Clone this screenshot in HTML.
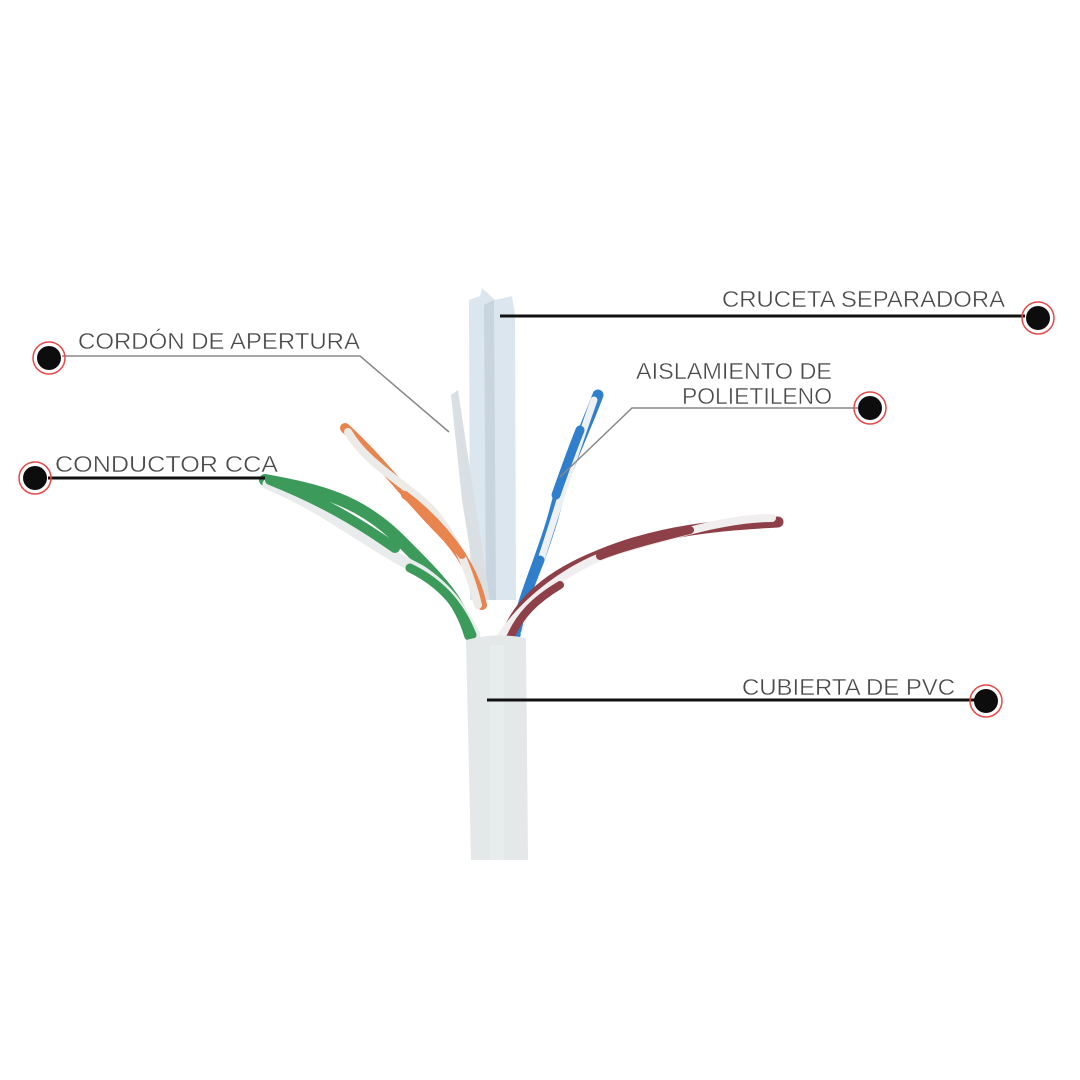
<!DOCTYPE html>
<html><head><meta charset="utf-8"><style>
html,body{margin:0;padding:0;background:#fff;}
svg{display:block}
text{font-family:"Liberation Sans",sans-serif;font-size:23px;fill:#4a4a4a;stroke:#fff;stroke-width:0.4px;}
path{stroke-linecap:round}
</style></head><body>
<svg width="1080" height="1080" viewBox="0 0 1080 1080" xmlns="http://www.w3.org/2000/svg">
<rect width="1080" height="1080" fill="#fff"/>
<!-- separator -->
<polygon points="469,300 480,296 482,288 495,300 512,296 515,315 516,600 470,600" fill="#dce6ee"/>
<polygon points="484,305 494,300 496,600 486,600" fill="#c8d4de"/>
<!-- ripcord -->
<path d="M451,395 L458,390 L470,470 L490,600 L478,600 L462,500 Z" fill="#d9dfe3"/>
<!-- green pair -->
<path d="M265,480 C320,490 360,500 400,540 C440,580 460,600 470,635" stroke="#3c9a5a" stroke-width="12" fill="none"/>
<path d="M268,484 C330,510 360,540 420,570 C450,590 462,610 475,635" stroke="#e8ecec" stroke-width="11" fill="none"/>
<path d="M270,480 C320,500 355,520 395,548" stroke="#3c9a5a" stroke-width="10" fill="none"/>
<path d="M410,568 C445,585 462,610 472,635" stroke="#3c9a5a" stroke-width="9" fill="none"/>
<!-- orange pair -->
<path d="M345,428 C380,460 410,500 440,530 C460,550 475,575 482,605" stroke="#e8844e" stroke-width="10" fill="none"/>
<path d="M348,432 C370,470 420,490 440,520 C460,545 472,580 478,605" stroke="#ecebe8" stroke-width="8" fill="none"/>
<path d="M405,495 C425,510 445,530 462,555" stroke="#e8844e" stroke-width="8" fill="none"/>
<!-- blue pair -->
<path d="M598,395 C585,430 565,470 555,510 C545,550 525,590 515,635" stroke="#2f7fcc" stroke-width="11" fill="none"/>
<path d="M594,400 C580,440 570,470 560,500 C548,540 530,590 520,630" stroke="#eef0f2" stroke-width="7" fill="none"/>
<path d="M580,430 C570,455 563,475 556,495" stroke="#2f7fcc" stroke-width="9" fill="none"/>
<path d="M540,560 C530,585 522,605 517,630" stroke="#2f7fcc" stroke-width="9" fill="none"/>
<!-- red pair -->
<path d="M778,522 C720,525 660,530 600,555 C550,575 520,600 505,638" stroke="#8e4048" stroke-width="11" fill="none"/>
<path d="M772,518 C720,518 660,540 620,550 C570,565 525,600 500,638" stroke="#f0eeee" stroke-width="8" fill="none"/>
<path d="M690,530 C650,540 620,548 600,556" stroke="#8e4048" stroke-width="8" fill="none"/>
<path d="M560,585 C535,600 520,615 510,638" stroke="#8e4048" stroke-width="8" fill="none"/>
<!-- jacket -->
<path d="M466,640 Q497,632 526,638 L528,860 L471,860 Z" fill="#e4e8e8" style="stroke-linecap:butt"/>
<rect x="490" y="645" width="14" height="215" fill="#eaeeee" opacity="0.6"/>
<!-- leader lines -->
<polyline points="500,316 1025,316" stroke="#111" stroke-width="3" fill="none"/>
<polyline points="62,356 360,356 449,432" stroke="#888" stroke-width="1.5" fill="none"/>
<polyline points="48,478 265,478" stroke="#111" stroke-width="3" fill="none"/>
<polyline points="860,408 632,408 560,477" stroke="#888" stroke-width="1.5" fill="none"/>
<polyline points="487,700 975,700" stroke="#111" stroke-width="3" fill="none"/>
<!-- markers -->
<g fill="#0d0d0d" stroke="none">
<circle cx="1038" cy="318" r="12"/><circle cx="49" cy="358" r="12"/><circle cx="35" cy="478" r="12"/>
<circle cx="870" cy="408" r="12"/><circle cx="986" cy="701" r="12"/></g>
<g fill="none" stroke="#e84848" stroke-width="1.5">
<circle cx="1038" cy="318" r="16"/><circle cx="49" cy="358" r="16"/><circle cx="35" cy="478" r="16"/>
<circle cx="870" cy="408" r="16"/><circle cx="986" cy="701" r="16"/></g>
<!-- labels -->
<text x="722" y="307" textLength="283" lengthAdjust="spacingAndGlyphs">CRUCETA SEPARADORA</text>
<text x="78" y="349" textLength="282" lengthAdjust="spacingAndGlyphs">CORDÓN DE APERTURA</text>
<text x="636" y="379" textLength="196" lengthAdjust="spacingAndGlyphs">AISLAMIENTO DE</text>
<text x="682" y="404" textLength="150" lengthAdjust="spacingAndGlyphs">POLIETILENO</text>
<text x="55" y="472" textLength="223" lengthAdjust="spacingAndGlyphs">CONDUCTOR CCA</text>
<text x="742" y="695" textLength="213" lengthAdjust="spacingAndGlyphs">CUBIERTA DE PVC</text>
</svg>
</body></html>
